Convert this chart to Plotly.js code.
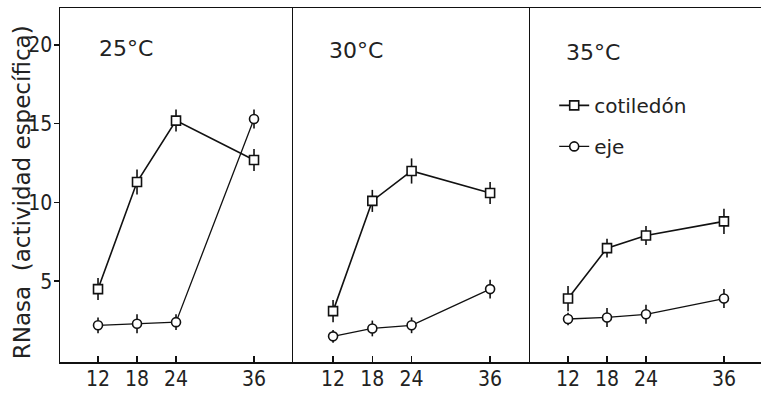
<!DOCTYPE html>
<html>
<head>
<meta charset="utf-8">
<script src="https://cdn.plot.ly/plotly-3.0.1.min.js"></script>
<style>html,body{margin:0;padding:0;background:#fff;}#chart{width:761px;height:394px;}</style>
</head>
<body>
<div id="chart"></div>
<script>
// Hours after imbibition (x values) and tick labels
const hours = [12, 18, 24, 36];
const tickText = ["12", "18", "24", "36"];
const yTicks = [5, 10, 15, 20];
const yTickText = ["5", "10", "15", "20"];

// Panel titles
const panelTitles = ["25°C", "30°C", "35°C"];
const seriesNames = ["cotiledón", "eje"];
const yTitle = "RNasa  (actividad específica)";

// RNasa specific activity — cotiledón
const cot25 = [4.5, 11.3, 15.2, 12.7];
const cot30 = [3.1, 10.1, 12.0, 10.6];
const cot35 = [3.9, 7.1, 7.9, 8.8];
// error (±)
const cot25Err = [0.7, 0.8, 0.7, 0.7];
const cot30Err = [0.7, 0.7, 0.8, 0.7];
const cot35Err = [0.8, 0.6, 0.6, 0.8];

// RNasa specific activity — eje
const eje25 = [2.2, 2.3, 2.4, 15.3];
const eje30 = [1.5, 2.0, 2.2, 4.5];
const eje35 = [2.6, 2.7, 2.9, 3.9];
const eje25Err = [0.5, 0.6, 0.5, 0.6];
const eje30Err = [0.4, 0.5, 0.5, 0.6];
const eje35Err = [0.4, 0.6, 0.6, 0.6];

const tickFont = {family: "DejaVu Sans Condensed, sans-serif", size: 21, color: "#222"};
const textFont = {family: "DejaVu Sans, sans-serif", size: 22, color: "#222"};

const cotData = [cot25, cot30, cot35];
const cotErr = [cot25Err, cot30Err, cot35Err];
const ejeData = [eje25, eje30, eje35];
const ejeErr = [eje25Err, eje30Err, eje35Err];

const traces = [];
for (let p = 0; p < 3; p++) {
  const xa = p === 0 ? "x" : "x" + (p + 1);
  const ya = p === 0 ? "y" : "y" + (p + 1);
  const showL = p === 2;
  traces.push({
    x: hours, y: cotData[p], xaxis: xa, yaxis: ya, type: "scatter", mode: "lines+markers",
    name: seriesNames[0], showlegend: showL, legendgroup: "cot",
    line: {color: "#111", width: 1.6},
    marker: {symbol: "square", size: 9, color: "#fff", line: {color: "#111", width: 1.6}},
    error_y: {type: "data", array: cotErr[p], visible: true, color: "#111", thickness: 1.6, width: 0}
  });
  traces.push({
    x: hours, y: ejeData[p], xaxis: xa, yaxis: ya, type: "scatter", mode: "lines+markers",
    name: seriesNames[1], showlegend: showL, legendgroup: "eje",
    line: {color: "#111", width: 1.3},
    marker: {symbol: "circle", size: 9, color: "#fff", line: {color: "#111", width: 1.6}},
    error_y: {type: "data", array: ejeErr[p], visible: true, color: "#111", thickness: 1.6, width: 0}
  });
}

const xCommon = {
  showline: true, mirror: true, linecolor: "#111", linewidth: 1.5,
  ticks: "inside", ticklen: 6, tickwidth: 1.5, tickcolor: "#111",
  tickvals: hours, ticktext: tickText, tickfont: tickFont, ticklabelstandoff: -3,
  showgrid: false, zeroline: false, fixedrange: true
};
const yCommon = {
  range: [-0.13, 22.35], showline: true, linecolor: "#111", linewidth: 1.5,
  showgrid: false, zeroline: false, fixedrange: true
};

const annotations = panelTitles.map((t, i) => ({
  text: t, showarrow: false, xref: "paper", yref: "paper",
  x: [0.094, 0.422, 0.760][i], y: [0.887, 0.881, 0.873][i],
  xanchor: "center", yanchor: "middle", font: textFont
}));
annotations.push({
  text: yTitle, showarrow: false, xref: "paper", yref: "paper",
  x: -0.054, y: 0.48, xanchor: "center", yanchor: "middle", textangle: -90,
  font: {family: "DejaVu Sans, sans-serif", size: 23, color: "#222"}
});

const layout = {
  width: 761, height: 394,
  margin: {l: 60, r: 0, t: 8, b: 32},
  paper_bgcolor: "#fff", plot_bgcolor: "#fff",
  showlegend: true,
  legend: {x: 0.705, y: 0.78, xanchor: "left", yanchor: "top", font: {family: "DejaVu Sans, sans-serif", size: 20, color: "#222"},
           bgcolor: "rgba(0,0,0,0)", tracegroupgap: 12, itemwidth: 30},
  xaxis: Object.assign({}, xCommon, {domain: [0, 0.3324], range: [6.15, 42], anchor: "y"}),
  xaxis2: Object.assign({}, xCommon, {domain: [0.3324, 0.6705], range: [5.88, 42.1], anchor: "y2"}),
  xaxis3: Object.assign({}, xCommon, {domain: [0.6705, 1], range: [6.15, 41.7], anchor: "y3"}),
  yaxis: Object.assign({}, yCommon, {anchor: "x", ticks: "outside", ticklen: 5, tickwidth: 1.5, tickcolor: "#111",
    tickvals: yTicks, ticktext: yTickText, tickfont: tickFont, ticklabelstandoff: -3}),
  yaxis2: Object.assign({}, yCommon, {anchor: "x2", showticklabels: false, ticks: ""}),
  yaxis3: Object.assign({}, yCommon, {anchor: "x3", showticklabels: false, ticks: ""}),
  annotations: annotations
};

Plotly.newPlot("chart", traces, layout, {displayModeBar: false, staticPlot: true});
</script>
</body>
</html>
